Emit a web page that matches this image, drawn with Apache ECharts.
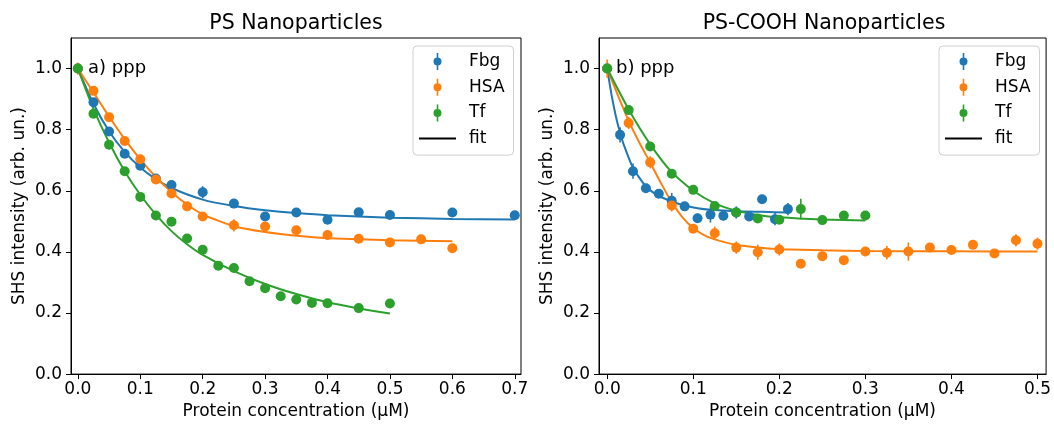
<!DOCTYPE html>
<html><head><meta charset="utf-8">
<script src="https://cdn.jsdelivr.net/npm/echarts@6/dist/echarts.min.js"></script>
<style>html,body{margin:0;padding:0;background:#fff}#c{width:1054px;height:425px}</style>
</head><body><div id="c"></div>
<script>
// ---------- DATA ----------
const xTicksPS = [0, 0.1, 0.2, 0.3, 0.4, 0.5, 0.6, 0.7];
const xTicksCOOH = [0, 0.1, 0.2, 0.3, 0.4, 0.5];
const yTicks = [0, 0.2, 0.4, 0.6, 0.8, 1.0];
const titles = ['PS Nanoparticles', 'PS-COOH Nanoparticles'];
const panelLabels = ['a) ppp', 'b) ppp'];
const seriesNames = ['Fbg', 'HSA', 'Tf'];

// PS panel – measured points
const psFbgX = [0, 0.025, 0.05, 0.075, 0.1, 0.125, 0.15, 0.2, 0.25, 0.3, 0.35, 0.4, 0.45, 0.5, 0.6, 0.7];
const psFbgY = [1.0, 0.890, 0.794, 0.721, 0.682, 0.640, 0.619, 0.595, 0.558, 0.516, 0.529, 0.505, 0.530, 0.521, 0.529, 0.520];
const psFbgErr = [0.01, 0.01, 0.01, 0.01, 0.01, 0.01, 0.01, 0.02, 0.01, 0.01, 0.01, 0.01, 0.01, 0.01, 0.01, 0.01];
const psHsaX = [0, 0.025, 0.05, 0.075, 0.1, 0.125, 0.15, 0.175, 0.2, 0.25, 0.3, 0.35, 0.4, 0.45, 0.5, 0.55, 0.6];
const psHsaY = [1.0, 0.927, 0.841, 0.763, 0.703, 0.637, 0.591, 0.549, 0.516, 0.487, 0.483, 0.471, 0.455, 0.443, 0.431, 0.441, 0.412];
const psHsaErr = [0.02, 0.012, 0.012, 0.01, 0.01, 0.01, 0.01, 0.01, 0.01, 0.02, 0.012, 0.012, 0.015, 0.01, 0.012, 0.015, 0.01];
const psTfX = [0, 0.025, 0.05, 0.075, 0.1, 0.125, 0.15, 0.175, 0.2, 0.225, 0.25, 0.275, 0.3, 0.325, 0.35, 0.375, 0.4, 0.45, 0.5];
const psTfY = [1.0, 0.852, 0.751, 0.664, 0.580, 0.519, 0.499, 0.444, 0.407, 0.355, 0.347, 0.304, 0.281, 0.255, 0.244, 0.233, 0.232, 0.216, 0.231];
const psTfErr = [0.008, 0.008, 0.008, 0.008, 0.008, 0.008, 0.008, 0.008, 0.008, 0.008, 0.012, 0.008, 0.008, 0.008, 0.008, 0.008, 0.008, 0.008, 0.008];

// PS panel – fit curves
const psFbgFitX = [0, 0.025, 0.05, 0.075, 0.1, 0.125, 0.15, 0.2, 0.25, 0.3, 0.35, 0.4, 0.5, 0.6, 0.7];
const psFbgFitY = [1.0, 0.885, 0.795, 0.727, 0.676, 0.638, 0.609, 0.571, 0.550, 0.536, 0.527, 0.520, 0.512, 0.508, 0.506];
const psHsaFitX = [0, 0.025, 0.05, 0.075, 0.1, 0.125, 0.15, 0.175, 0.2, 0.25, 0.3, 0.35, 0.4, 0.5, 0.6];
const psHsaFitY = [1.0, 0.922, 0.843, 0.769, 0.703, 0.645, 0.596, 0.555, 0.523, 0.484, 0.465, 0.453, 0.445, 0.438, 0.435];
const psTfFitX = [0, 0.025, 0.05, 0.075, 0.1, 0.125, 0.15, 0.175, 0.2, 0.25, 0.3, 0.35, 0.4, 0.45, 0.5];
const psTfFitY = [1.0, 0.868, 0.758, 0.664, 0.587, 0.522, 0.468, 0.425, 0.390, 0.337, 0.295, 0.262, 0.235, 0.215, 0.198];

// PS-COOH panel – measured points
const coFbgX = [0, 0.015, 0.03, 0.045, 0.06, 0.075, 0.09, 0.105, 0.12, 0.135, 0.15, 0.165, 0.18, 0.195, 0.21];
const coFbgY = [1.0, 0.783, 0.664, 0.608, 0.590, 0.567, 0.549, 0.510, 0.522, 0.518, 0.529, 0.516, 0.572, 0.507, 0.540];
const coFbgErr = [0.01, 0.025, 0.025, 0.015, 0.012, 0.026, 0.012, 0.015, 0.026, 0.015, 0.02, 0.015, 0.012, 0.02, 0.02];
const coHsaX = [0, 0.025, 0.05, 0.075, 0.1, 0.125, 0.15, 0.175, 0.2, 0.225, 0.25, 0.275, 0.3, 0.325, 0.35, 0.375, 0.4, 0.425, 0.45, 0.475, 0.5];
const coHsaY = [1.0, 0.822, 0.693, 0.552, 0.476, 0.461, 0.414, 0.399, 0.408, 0.361, 0.386, 0.373, 0.401, 0.397, 0.401, 0.414, 0.406, 0.423, 0.395, 0.438, 0.427];
const coHsaErr = [0.03, 0.02, 0.02, 0.02, 0.012, 0.022, 0.02, 0.025, 0.02, 0.012, 0.015, 0.012, 0.015, 0.022, 0.03, 0.012, 0.015, 0.012, 0.012, 0.02, 0.02];
const coTfX = [0, 0.025, 0.05, 0.075, 0.1, 0.125, 0.15, 0.175, 0.2, 0.225, 0.25, 0.275, 0.3];
const coTfY = [1.0, 0.864, 0.745, 0.656, 0.603, 0.550, 0.529, 0.509, 0.505, 0.540, 0.504, 0.519, 0.519];
const coTfErr = [0.01, 0.01, 0.01, 0.01, 0.01, 0.01, 0.01, 0.01, 0.01, 0.034, 0.01, 0.01, 0.012];

// PS-COOH panel – fit curves
const coFbgFitX = [0, 0.005, 0.01, 0.015, 0.02, 0.03, 0.045, 0.06, 0.075, 0.09, 0.105, 0.12, 0.15, 0.18, 0.21];
const coFbgFitY = [1.0, 0.915, 0.845, 0.79, 0.745, 0.675, 0.614, 0.583, 0.565, 0.552, 0.543, 0.538, 0.533, 0.531, 0.529];
const coHsaFitX = [0, 0.0125, 0.025, 0.0375, 0.05, 0.0625, 0.075, 0.0875, 0.1, 0.1125, 0.125, 0.15, 0.175, 0.2, 0.25, 0.3, 0.4, 0.5];
const coHsaFitY = [1.0, 0.912, 0.829, 0.757, 0.692, 0.625, 0.563, 0.513, 0.478, 0.455, 0.441, 0.423, 0.414, 0.409, 0.405, 0.403, 0.402, 0.401];
const coTfFitX = [0, 0.025, 0.05, 0.075, 0.1, 0.125, 0.15, 0.175, 0.2, 0.25, 0.3];
const coTfFitY = [1.0, 0.866, 0.752, 0.661, 0.600, 0.559, 0.535, 0.521, 0.513, 0.506, 0.503];

// ---------- STYLE ----------
const COLORS = ['#1f77b4', '#ff7f0e', '#2ca02c'];
const FONT = 'DejaVu Sans';
const GRIDS = [{ left: 71, top: 38, width: 450, height: 340 }, { left: 599, top: 38, width: 450, height: 340 }];
const X_RANGE = [[-0.011, 0.71], [-0.0095, 0.51]];

const zip = (xs, ys) => xs.map((x, i) => [x, ys[i]]);
const zip3 = (xs, ys, es) => xs.map((x, i) => [x, ys[i], es[i]]);

const panels = [
  {
    pts: [[psFbgX, psFbgY, psFbgErr], [psHsaX, psHsaY, psHsaErr], [psTfX, psTfY, psTfErr]],
    fits: [[psFbgFitX, psFbgFitY], [psHsaFitX, psHsaFitY], [psTfFitX, psTfFitY]],
    ticks: xTicksPS
  },
  {
    pts: [[coFbgX, coFbgY, coFbgErr], [coHsaX, coHsaY, coHsaErr], [coTfX, coTfY, coTfErr]],
    fits: [[coFbgFitX, coFbgFitY], [coHsaFitX, coHsaFitY], [coTfFitX, coTfFitY]],
    ticks: xTicksCOOH
  }
];

const series = [];
panels.forEach((p, pi) => {
  p.pts.forEach((s, si) => {
    series.push({
      name: seriesNames[si], type: 'scatter', xAxisIndex: pi, yAxisIndex: pi,
      data: zip(s[0], s[1]), symbol: 'circle', symbolSize: 10, z: 5 + si,
      itemStyle: { color: COLORS[si], opacity: 1 }, emphasis: { disabled: true }
    });
  });
  p.pts.forEach((s, si) => {
    series.push({
      name: seriesNames[si], type: 'custom', xAxisIndex: pi, yAxisIndex: pi,
      data: zip3(s[0], s[1], s[2]), z: 4 + si,
      itemStyle: { color: COLORS[si] },
      renderItem: function (params, api) {
        const x = api.value(0), y = api.value(1), e = api.value(2);
        const a = api.coord([x, y - e]), b = api.coord([x, y + e]);
        return { type: 'line', shape: { x1: a[0], y1: a[1], x2: b[0], y2: b[1] },
                 style: { stroke: COLORS[si], lineWidth: 1.6 } };
      }
    });
  });
  p.fits.forEach((f, si) => {
    series.push({
      name: 'fit', type: 'line', xAxisIndex: pi, yAxisIndex: pi,
      data: zip(f[0], f[1]), showSymbol: false, symbol: 'none', smooth: 0.2,
      lineStyle: { color: COLORS[si], width: 2 }, itemStyle: { color: COLORS[si] }, z: 2,
      emphasis: { disabled: true }
    });
  });
});

const ERR_ICON = 'path://M-0.8,-8.5L0.8,-8.5L0.8,8.5L-0.8,8.5Z M4,0A4,4,0,1,1,-4,0A4,4,0,1,1,4,0Z';
const LINE_ICON = 'path://M0,0L37,0L37,2L0,2Z';

function legendFor(left) {
  return {
    left: left, top: 46, orient: 'vertical', itemWidth: 37, itemHeight: 17, itemGap: 8.7,
    padding: [7, 9, 8, 6], backgroundColor: '#fff', borderColor: '#d0d0d0', borderWidth: 1, borderRadius: 4,
    selectedMode: false,
    textStyle: { fontFamily: FONT, fontSize: 17, color: '#000', padding: [0, 0, 0, 8] },
    data: [
      { name: 'Fbg', icon: ERR_ICON },
      { name: 'HSA', icon: ERR_ICON },
      { name: 'Tf', icon: ERR_ICON },
      { name: 'fit', icon: LINE_ICON, itemStyle: { color: '#000', borderWidth: 0 } }
    ]
  };
}

const option = {
  animation: false,
  backgroundColor: '#fff',
  title: titles.map((t, i) => ({
    text: t, left: GRIDS[i].left + GRIDS[i].width / 2, top: 13, textAlign: 'center', padding: 0,
    textStyle: { fontFamily: FONT, fontSize: 20.5, fontWeight: 'normal', color: '#000' }
  })),
  legend: [legendFor(413), legendFor(939)],
  grid: GRIDS.map(g => Object.assign({ show: true, borderColor: '#000', borderWidth: 1, backgroundColor: '#fff', containLabel: false }, g)),
  xAxis: panels.map((p, i) => ({
    type: 'value', gridIndex: i, min: X_RANGE[i][0], max: X_RANGE[i][1],
    name: 'Protein concentration (μM)', nameLocation: 'middle', nameGap: 25,
    nameTextStyle: { fontFamily: FONT, fontSize: 17, color: '#000' },
    axisLine: { show: true, onZero: false, lineStyle: { color: '#000', width: 1 } },
    axisTick: { show: true, inside: false, length: 5, lineStyle: { color: '#000' }, customValues: p.ticks },
    axisLabel: { show: true, margin: 7, fontFamily: FONT, fontSize: 17, color: '#000', customValues: p.ticks,
                 formatter: v => Number(v).toFixed(1) },
    splitLine: { show: false }
  })),
  yAxis: panels.map((p, i) => ({
    type: 'value', gridIndex: i, min: 0, max: 1.1,
    name: 'SHS intensity (arb. un.)', nameLocation: 'middle', nameGap: 43,
    nameTextStyle: { fontFamily: FONT, fontSize: 17, color: '#000' },
    axisLine: { show: true, onZero: false, lineStyle: { color: '#000', width: 1 } },
    axisTick: { show: true, inside: false, length: 5, lineStyle: { color: '#000' }, customValues: yTicks },
    axisLabel: { show: true, margin: 9, fontFamily: FONT, fontSize: 17, color: '#000', customValues: yTicks,
                 formatter: v => Number(v).toFixed(1) },
    splitLine: { show: false }
  })),
  graphic: panelLabels.map((t, i) => ({
    type: 'text', x: GRIDS[i].left + 17, y: 68,
    style: { text: t, fontFamily: FONT, fontSize: 18, fill: '#000', verticalAlign: 'middle', align: 'left' }
  })),
  series: series
};

const chart = echarts.init(document.getElementById('c'), null, { renderer: 'canvas' });
chart.setOption(option);
</script></body></html>
